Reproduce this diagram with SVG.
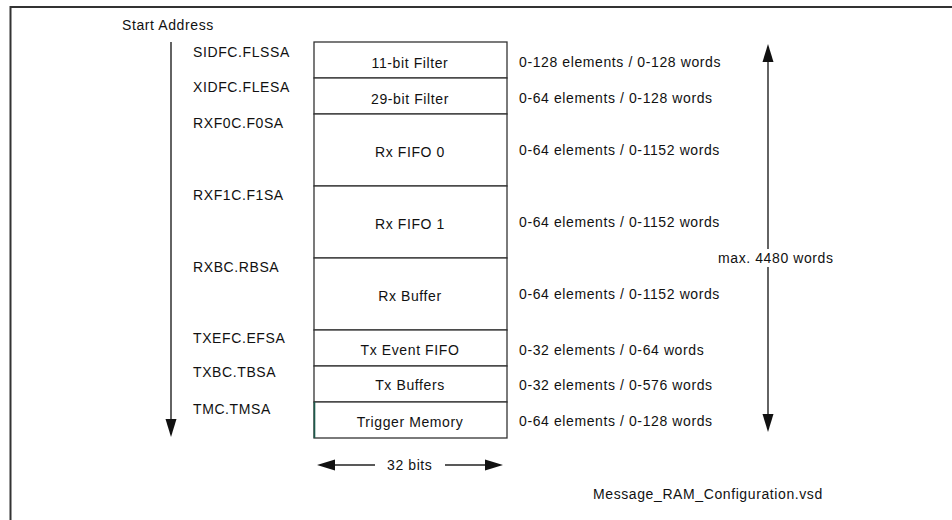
<svg xmlns="http://www.w3.org/2000/svg" width="952" height="520" viewBox="0 0 952 520">
<style>
text{font-family:"Liberation Sans",Arial,sans-serif;font-size:14px;fill:#111;letter-spacing:0.6px}
.c{text-anchor:middle}
.cell{fill:#fff;stroke:#333;stroke-width:1.3}
.ln{stroke:#222;stroke-width:1.4;fill:none}
.hd{fill:#111}
.fr{stroke:#333;stroke-width:2;fill:none}
</style>
<rect width="952" height="520" fill="#fff"/>
<path class="fr" d="M10.5,520 V7 H952"/>
<text x="122" y="30">Start Address</text>
<g id="addr-labels">
<text x="193" y="57">SIDFC.FLSSA</text>
<text x="193" y="92">XIDFC.FLESA</text>
<text x="193" y="128">RXF0C.F0SA</text>
<text x="193" y="200">RXF1C.F1SA</text>
<text x="193" y="272">RXBC.RBSA</text>
<text x="193" y="343">TXEFC.EFSA</text>
<text x="193" y="377">TXBC.TBSA</text>
<text x="193" y="414">TMC.TMSA</text>
</g>
<g id="n-11bit"><rect class="cell" x="314" y="42" width="193" height="36"/><text class="c" x="410" y="68">11-bit Filter</text><text x="519" y="67">0-128 elements / 0-128 words</text></g>
<g id="n-29bit"><rect class="cell" x="314" y="78" width="193" height="36"/><text class="c" x="410" y="104">29-bit Filter</text><text x="519" y="103">0-64 elements / 0-128 words</text></g>
<g id="n-rxfifo0"><rect class="cell" x="314" y="114" width="193" height="72"/><text class="c" x="410" y="157">Rx FIFO 0</text><text x="519" y="155">0-64 elements / 0-1152 words</text></g>
<g id="n-rxfifo1"><rect class="cell" x="314" y="186" width="193" height="72"/><text class="c" x="410" y="229">Rx FIFO 1</text><text x="519" y="227">0-64 elements / 0-1152 words</text></g>
<g id="n-rxbuf"><rect class="cell" x="314" y="258" width="193" height="72"/><text class="c" x="410" y="301">Rx Buffer</text><text x="519" y="299">0-64 elements / 0-1152 words</text></g>
<g id="n-txevent"><rect class="cell" x="314" y="330" width="193" height="36"/><text class="c" x="410" y="355">Tx Event FIFO</text><text x="519" y="355">0-32 elements / 0-64 words</text></g>
<g id="n-txbuf"><rect class="cell" x="314" y="366" width="193" height="36"/><text class="c" x="410" y="390">Tx Buffers</text><text x="519" y="390">0-32 elements / 0-576 words</text></g>
<g id="n-trigger"><rect class="cell" x="314" y="402" width="193" height="36"/><line x1="314.5" y1="402" x2="314.5" y2="438" stroke="#1d5a4c" stroke-width="1.6"/><text class="c" x="410" y="427">Trigger Memory</text><text x="519" y="426">0-64 elements / 0-128 words</text></g>
<g id="connectors">
<line class="ln" x1="171" y1="42" x2="171" y2="422"/>
<polygon class="hd" points="165.5,419 176.5,419 171,437"/>
<line class="ln" x1="768" y1="60" x2="768" y2="416"/>
<polygon class="hd" points="768,44 762.5,62 773.5,62"/>
<polygon class="hd" points="762.5,414 773.5,414 768,432"/>
<line class="ln" x1="333" y1="465" x2="375" y2="465"/>
<polygon class="hd" points="317,465 335,459.5 335,470.5"/>
<line class="ln" x1="445" y1="465" x2="487" y2="465"/>
<polygon class="hd" points="503,465 485,459.5 485,470.5"/>
</g>
<rect x="715" y="249" width="122" height="18" fill="#fff"/>
<text x="718" y="263">max. 4480 words</text>
<text x="387" y="470">32 bits</text>
<text x="593" y="499">Message_RAM_Configuration.vsd</text>
</svg>
